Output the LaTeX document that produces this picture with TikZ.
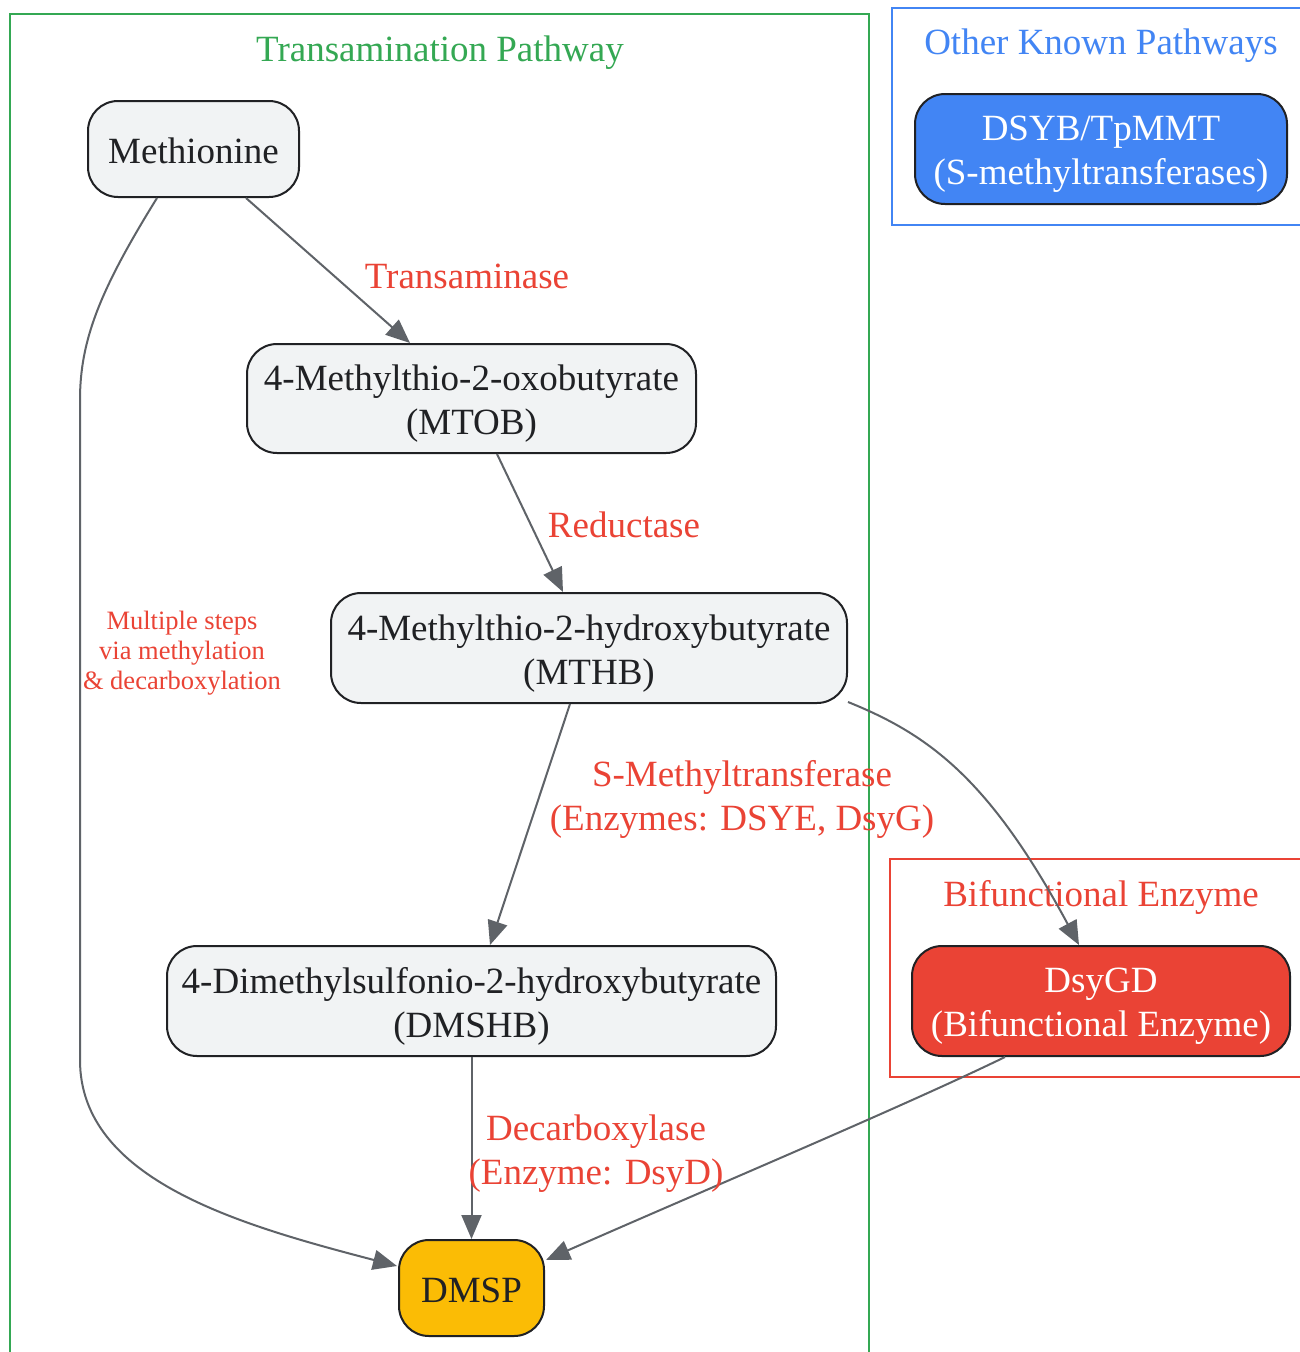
\documentclass[tikz,border=0pt]{standalone}
\usepackage{fontspec}
\setmainfont{Liberation Serif}
\usetikzlibrary{arrows.meta,calc}
\definecolor{gGreen}{HTML}{34A853}
\definecolor{gBlue}{HTML}{4285F4}
\definecolor{gRed}{HTML}{EA4335}
\definecolor{gYellow}{HTML}{FBBC05}
\definecolor{gGray}{HTML}{F1F3F4}
\definecolor{gDark}{HTML}{202124}
\definecolor{gEdge}{HTML}{5F6368}
\tikzset{
  big/.style={font=\fontsize{37}{44}\selectfont},
  pbox/.style={draw=gDark, line width=2pt, rounded corners=30pt, fill=gGray, inner sep=0pt},
  ptext/.style={text=gDark, align=center, inner sep=0pt, big},
  cluster/.style={line width=2pt},
  ctitle/.style={big, inner sep=0pt},
  elabel/.style={big, text=gRed, align=center, inner sep=0pt},
  flow/.style={draw=gEdge, line width=2pt, -{Triangle[length=24pt,width=20pt]}},
}
\begin{document}
\begin{tikzpicture}[x=1pt,y=-1pt]
\useasboundingbox (0,0) rectangle (1300,1352);
\fill[white] (0,0) rectangle (1300,1352);
% clusters
\draw[cluster, gGreen] (10,14) rectangle (869,1360);
\draw[cluster, gBlue] (892,8) rectangle (1310,225);
\draw[cluster, gRed] (890,859) rectangle (1310,1077);
\node[ctitle, text=gGreen] (tgreen) at (440,53) {Transamination Pathway};
\node[ctitle, text=gBlue] (tblue) at (1101,46) {Other Known Pathways};
\node[ctitle, text=gRed] (tred) at (1101,897) {Bifunctional Enzyme};
% node boxes
\node[pbox, minimum width=211pt, minimum height=96pt] (meth) at (193.5,149) {};
\node[pbox, minimum width=449pt, minimum height=109pt] (mtob) at (471.5,398.5) {};
\node[pbox, minimum width=516pt, minimum height=110pt] (mthb) at (589,648) {};
\node[pbox, minimum width=609pt, minimum height=110pt] (dmshb) at (471.5,1001) {};
\node[pbox, fill=gYellow, minimum width=145pt, minimum height=96pt] (dmsp) at (471.5,1288) {};
\node[pbox, fill=gBlue, minimum width=372pt, minimum height=110pt] (dsyb) at (1101,149) {};
\node[pbox, fill=gRed, minimum width=378pt, minimum height=110pt] (dsygd) at (1101,1001) {};
% node texts
\node[ptext] (methT) at ($(meth.center)+(0,2)$) {Methionine};
\node[ptext] (mtobT) at ($(mtob.center)+(0,5)$) {4-Methylthio-2-oxobutyrate\\(MTOB)};
\node[ptext] (mthbT) at ($(mthb.center)+(0,5.5)$) {4-Methylthio-2-hydroxybutyrate\\(MTHB)};
\node[ptext] (dmshbT) at ($(dmshb.center)+(0,5)$) {4-Dimethylsulfonio-2-hydroxybutyrate\\(DMSHB)};
\node[ptext] (dmspT) at ($(dmsp.center)+(0,2)$) {DMSP};
\node[ptext, text=white] (dsybT) at ($(dsyb.center)+(0,5.5)$) {DSYB/TpMMT\\(S-methyltransferases)};
\node[ptext, text=white] (dsygdT) at ($(dsygd.center)+(0,5)$) {DsyGD\\(Bifunctional Enzyme)};
% edges
\draw[flow] ($(meth.south)+(52.5,0)$) -- ($(mtob.north)+(-61.5,0)$);
\draw[flow] ($(mtob.south)+(25.5,0)$) -- ($(mthb.north)+(-26,0)$);
\draw[flow] ($(mthb.south)+(-19,0)$) -- ($(dmshb.north)+(18.5,0)$);
\draw[flow] (dmshb.south) -- (dmsp.north);
\draw[flow] ($(meth.south)+(-36.5,0)$) .. controls (100,290) and (80,340) .. (80,400) -- (80,1060) .. controls (80,1180) and (240,1225) .. ($(dmsp.west)+(-1,-22)$);
\draw[flow] ($(mthb.south east)+(0,-2)$) .. controls (930,735) and (990,780) .. ($(dsygd.north)+(-22,0)$);
\draw[flow] ($(dsygd.south)+(-96,0)$) .. controls (900,1108) and (700,1192) .. ($(dmsp.east)+(1,-28)$);
% edge labels
\node[elabel] (l1) at (467,276) {Transaminase};
\node[elabel] (l2) at (624,525) {Reductase};
\node[elabel] (l3) at (742,799.5) {S-Methyltransferase\\(Enzymes: DSYE, DsyG)};
\node[elabel] (l4) at (596,1153.5) {Decarboxylase\\(Enzyme: DsyD)};
\node[elabel, font=\fontsize{26.5}{30}\selectfont] (l5) at (182,653) {Multiple steps\\via methylation\\\&\ decarboxylation};
\end{tikzpicture}
\end{document}
